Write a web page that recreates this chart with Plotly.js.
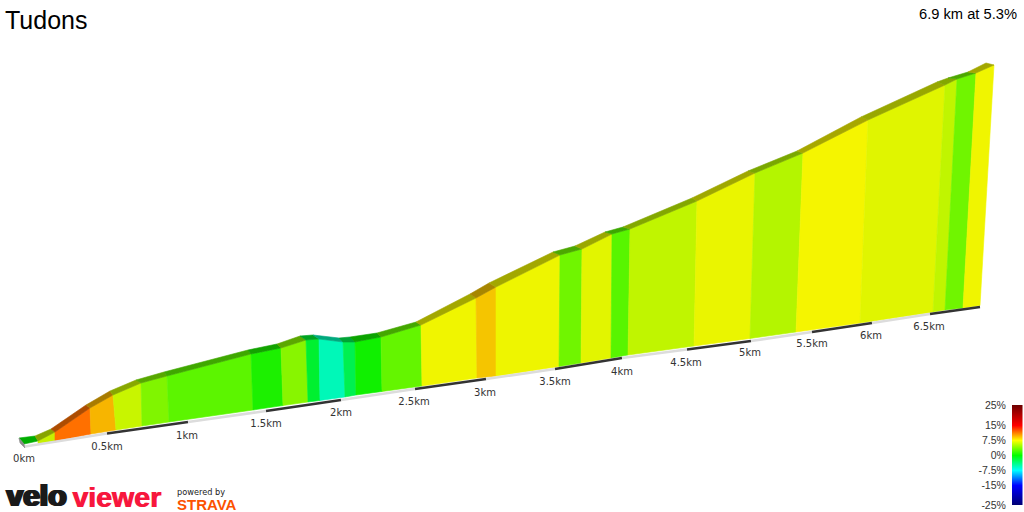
<!DOCTYPE html>
<html>
<head>
<meta charset="utf-8">
<script src="https://cdn.plot.ly/plotly-3.0.1.min.js"></script>
<style>html,body{margin:0;padding:0;background:#fff}#chart{width:1024px;height:512px}</style>
</head>
<body>
<div id="chart"></div>
<script>
// Profile section boundaries
var frontTopX = [24,38,55,90,113,141,167,251,281,306,319,343,355,381,421,476,496,560,582,612,630,697,755,803,868,945,957,976,994];
var frontTopY = [444,441,432,408,395,383,376,354,348,340,339,342,342,337,325,298,287,255,249,234,229,201,173,153,120,85,79,73,65];
var backTopX  = [19,35,51,86,110,136,164,248,277,300,313,339,350,377,416,470,489,553,575,605,623,692,748,797,861,937,948,968,986];
var backTopY  = [438,436,429,405,391,380,372,350,344,336,335,338,337,333,322,294,283,252,246,232,227,198,171,151,117,82,78,72,63];
var bottomX   = [24,38,55,91,116,142,169,253,283,308,320,345,356,382,422,477,496,559,581,611,628,694,750,796,860,933,945,963,980];
var bottomY   = [444,443.5,441,434,430,426,422,410,405.5,402,400.5,397,395,391.5,386,378,376,366.5,363,358,355,346,338.5,332,323,312,310,308,305.5];
var faceColors = ['#00ff00','#c6f000','#ff7000','#f7b500','#c8f500','#80f500','#5cf500','#1cf000','#88f500','#00f030','#00f8b8','#00f050','#10f000','#64f500','#f0f500','#f5c500','#eef500','#70f500','#e2f500','#58f500','#c0f500','#eaf500','#b4f500','#f5f500','#e0f500','#c0f500','#70f500','#f0f500'];

// Kilometre marks along the base
var kmLabels = ['0km','0.5km','1km','1.5km','2km','2.5km','3km','3.5km','4km','4.5km','5km','5.5km','6km','6.5km'];
var kmX = [25,107,188,266,341,415,486,555,622,687,751,812,872,930];
var kmY = [446.5,433.5,422,411,400,389,379,369,358,349.5,341,332,323,314];
var kmLabelX = [24,107,187,266,341,414,485,555,622,686,750,812,871,929];
var kmLabelY = [459,447,436,424,413,402,393,382,372,363,353,344,336,327];
var baseEndX = 980, baseEndY = 307;
var endCapX = [19,24,25,20], endCapY = [438,444,448,443];

// Gradient legend
var legendLevels = [-25,-22.5,-20,-17.5,-15,-12.5,-10,-7.5,-5,-2.5,0,2.5,5,7.5,10,12.5,15,17.5,20,22.5,25];
var legendTicks = [25,15,7.5,0,-7.5,-15,-25];
var legendTickText = ['25%','15%','7.5%','0%','-7.5%','-15%','-25%'];
var legendStops = [[0,'#000070'],[0.2,'#0000ff'],[0.35,'#00ffff'],[0.5,'#00ff00'],[0.65,'#ffff00'],[0.8,'#ff0000'],[1,'#700000']];

function shade(hex,f){
  var n=parseInt(hex.slice(1),16);
  return 'rgb('+Math.round((n>>16&255)*f)+','+Math.round((n>>8&255)*f)+','+Math.round((n&255)*f)+')';
}
var traces=[];
function poly(xs,ys,c){
  traces.push({type:'scatter',mode:'lines',x:xs.concat(xs[0]),y:ys.concat(ys[0]),fill:'toself',fillcolor:c,
    line:{color:c,width:0.6},hoverinfo:'skip',showlegend:false});
}
for(var i=0;i<faceColors.length;i++){
  if(i>0) poly([frontTopX[i],frontTopX[i+1],bottomX[i+1],bottomX[i]],[frontTopY[i],frontTopY[i+1],bottomY[i+1],bottomY[i]],faceColors[i]);
  poly([backTopX[i],backTopX[i+1],frontTopX[i+1],frontTopX[i]],[backTopY[i],backTopY[i+1],frontTopY[i+1],frontTopY[i]],shade(faceColors[i],0.68));
}
poly(endCapX,endCapY,'#8a8a8a');
var stripX=kmX.concat(baseEndX), stripY=kmY.concat(baseEndY);
for(var k=0;k<stripX.length-1;k++){
  traces.push({type:'scatter',mode:'lines',x:[stripX[k],stripX[k+1]],y:[stripY[k],stripY[k+1]],
    line:{color:k%2?'#333333':'#dcdcdc',width:2.6},hoverinfo:'skip',showlegend:false});
}
traces.push({type:'scatter',mode:'text',x:kmLabelX,y:kmLabelY,text:kmLabels,textposition:'middle center',
  textfont:{family:'DejaVu Sans',size:10,color:'#333'},hoverinfo:'skip',showlegend:false});
traces.push({type:'heatmap',xaxis:'x2',yaxis:'y2',x:[0,1],y:legendLevels,
  z:legendLevels.map(function(v){return [v,v];}),zmin:-25,zmax:25,colorscale:legendStops,zsmooth:'best',showscale:false,hoverinfo:'skip'});

var hidden={visible:false,fixedrange:true};
var layout={
  width:1024,height:512,margin:{l:0,r:0,t:0,b:0},paper_bgcolor:'#fff',plot_bgcolor:'rgba(0,0,0,0)',showlegend:false,
  title:{text:'Tudons',x:5/1024,xanchor:'left',xref:'paper',y:1-20/512,yanchor:'middle',yref:'paper',font:{family:'Liberation Sans',size:25,color:'#000'}},
  xaxis:Object.assign({range:[0,1024],domain:[0,1]},hidden),
  yaxis:Object.assign({range:[512,0],domain:[0,1]},hidden),
  xaxis2:{domain:[1012/1024,1022.5/1024],range:[0,1],anchor:'y2',visible:false,fixedrange:true},
  yaxis2:{domain:[7/512,107/512],range:[-25,25],anchor:'x2',side:'left',tickmode:'array',tickvals:legendTicks,ticktext:legendTickText,
    tickfont:{family:'Liberation Sans',size:10.5,color:'#333'},ticks:'outside',ticklen:3,tickcolor:'rgba(0,0,0,0)',showgrid:false,zeroline:false,showline:false,fixedrange:true},
  annotations:[
    {text:'6.9 km at 5.3%',x:1019,y:14,xref:'x',yref:'y',xanchor:'right',yanchor:'middle',showarrow:false,font:{family:'Liberation Sans',size:14.7,color:'#000'}},
    {text:'<b>velo</b>',x:4,y:495.5,xref:'x',yref:'y',xanchor:'left',yanchor:'middle',showarrow:false,font:{family:'Liberation Sans',size:30,color:'#1a1a1a',shadow:'1px 0 0 #1a1a1a, -1px 0 0 #1a1a1a, 2px 0 0 #1a1a1a'}},
    {text:'<b>viewer</b>',x:70,y:497,xref:'x',yref:'y',xanchor:'left',yanchor:'middle',showarrow:false,font:{family:'Liberation Sans',size:28.5,color:'#f7173d',shadow:'1px 0 0 #f7173d'}},
    {text:'powered by',x:175,y:492,xref:'x',yref:'y',xanchor:'left',yanchor:'middle',showarrow:false,font:{family:'DejaVu Sans',size:8.2,color:'#222'}},
    {text:'<b>STRAVA</b>',x:175,y:504,xref:'x',yref:'y',xanchor:'left',yanchor:'middle',showarrow:false,font:{family:'Liberation Sans',size:15,color:'#fc5200'}}
  ]
};
Plotly.newPlot('chart',traces,layout,{displayModeBar:false,staticPlot:true});
</script>
</body>
</html>
